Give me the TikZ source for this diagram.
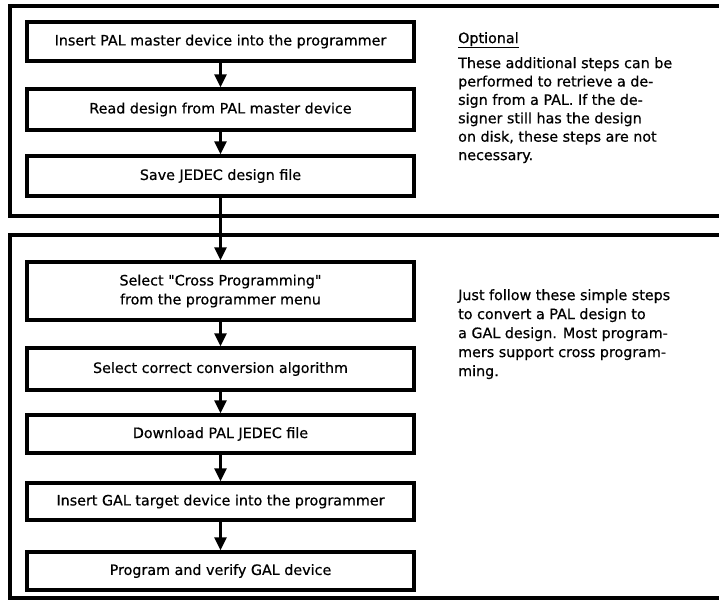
\documentclass[tikz,border=0pt]{standalone}
\usepackage{fontspec}
\setmainfont{DejaVu Sans}[Ligatures=TeXOff,FakeBold=0.6]
\usetikzlibrary{arrows.meta}
\begin{document}
\begin{tikzpicture}[x=1pt,y=-1pt,
  frame/.style={line width=3.8pt},
  stepbox/.style={draw,line width=3.2pt,minimum width=387pt,inner sep=0pt,align=center,
    font=\fontsize{14.3}{19}\selectfont},
  flow/.style={line width=2.5pt,-{Triangle[length=13pt,width=12pt]}},
  note/.style={anchor=north west,align=left,inner sep=0pt,font=\fontsize{14.3}{18.4}\selectfont}
]
\path[use as bounding box,clip] (0,0) rectangle (719,608);
\fill[white] (0,0) rectangle (719,608);
% frames
\draw[frame] (740,6) -- (10,6) -- (10,216) -- (740,216);
\draw[frame] (740,235) -- (10,235) -- (10,598) -- (740,598);
% boxes
\node[stepbox,minimum height=39pt] (b1) at (220.5,41.5) {Insert PAL master device into the programmer};
\node[stepbox,minimum height=41pt] (b2) at (220.5,109.5) {Read design from PAL master device};
\node[stepbox,minimum height=40pt] (b3) at (220.5,176) {Save JEDEC design file};
\node[stepbox,minimum height=58pt] (b4) at (220.5,291) {Select "Cross Programming"\\from the programmer menu};
\node[stepbox,minimum height=42pt] (b5) at (220.5,369) {Select correct conversion algorithm};
\node[stepbox,minimum height=38pt] (b6) at (220.5,434) {Download PAL JEDEC file};
\node[stepbox,minimum height=37pt] (b7) at (220.5,501.5) {Insert GAL target device into the programmer};
\node[stepbox,minimum height=38pt] (b8) at (220.5,571) {Program and verify GAL device};
% arrows
\draw[flow] (b1) -- (b2);
\draw[flow] (b2) -- (b3);
\draw[flow] (b3) -- (b4);
\draw[flow] (b4) -- (b5);
\draw[flow] (b5) -- (b6);
\draw[flow] (b6) -- (b7);
\draw[flow] (b7) -- (b8);
% notes
\node[note] (opt) at (458,32) {\underline{Optional}};
\node[note] (n1) at (458,57) {These additional steps can be\\performed to retrieve a de-\\sign from a PAL. If the de-\\signer still has the design\\on disk, these steps are not\\necessary.};
\node[note,font=\fontsize{14.3}{19}\selectfont] (n2) at (458,289) {Just follow these simple steps\\to convert a PAL design to\\a GAL design. Most program-\\mers support cross program-\\ming.};
\end{tikzpicture}
\end{document}
